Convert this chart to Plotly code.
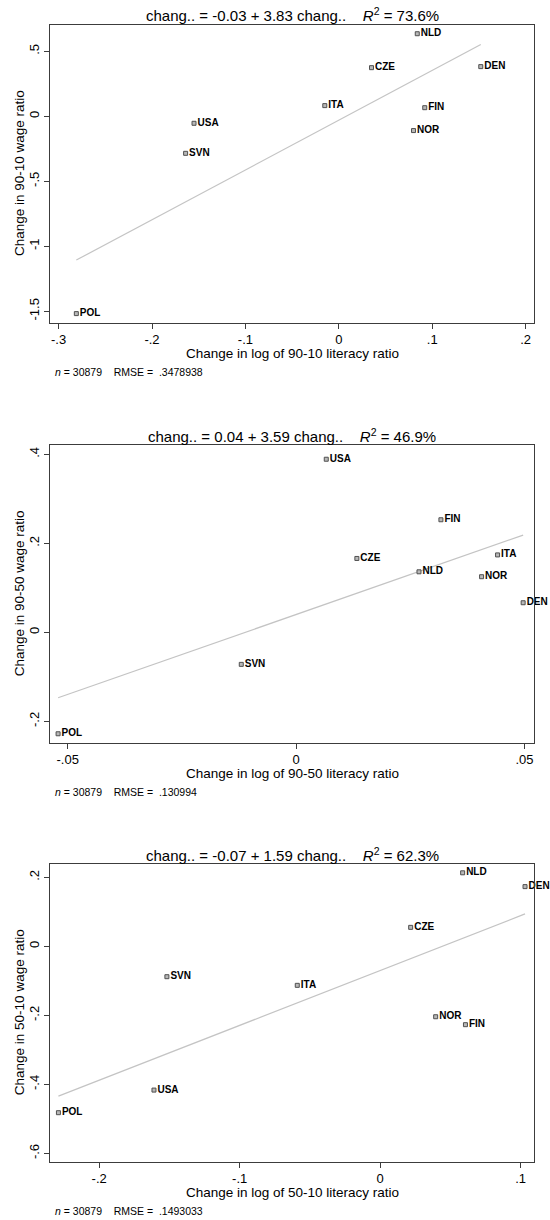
import plotly.graph_objects as go

# Country codes shown next to each point
countries_9010 = ["NLD", "CZE", "DEN", "ITA", "FIN", "USA", "NOR", "SVN", "POL"]
lit_9010 = [0.084, 0.035, 0.152, -0.015, 0.092, -0.155, 0.080, -0.164, -0.281]
wage_9010 = [0.635, 0.374, 0.382, 0.082, 0.066, -0.054, -0.110, -0.285, -1.518]

countries_9050 = ["USA", "FIN", "CZE", "ITA", "NLD", "NOR", "DEN", "SVN", "POL"]
lit_9050 = [0.0066, 0.0317, 0.0133, 0.0441, 0.0269, 0.0406, 0.0497, -0.0120, -0.0521]
wage_9050 = [0.389, 0.253, 0.166, 0.174, 0.136, 0.125, 0.0665, -0.072, -0.228]

countries_5010 = ["NLD", "DEN", "CZE", "SVN", "ITA", "NOR", "FIN", "USA", "POL"]
lit_5010 = [0.0587, 0.1031, 0.0217, -0.1518, -0.059, 0.0395, 0.0607, -0.161, -0.229]
wage_5010 = [0.213, 0.173, 0.055, -0.088, -0.113, -0.204, -0.227, -0.4165, -0.482]

# Fitted regression: intercept, slope, R-squared (%)
fits = [(-0.03, 3.83, 73.6), (0.04, 3.59, 46.9), (-0.07, 1.59, 62.3)]
rmse_text = [".3478938", ".130994", ".1493033"]
n_obs = 30879

x_titles = ["Change in log of 90-10 literacy ratio",
            "Change in log of 90-50 literacy ratio",
            "Change in log of 50-10 literacy ratio"]
y_titles = ["Change in 90-10 wage ratio",
            "Change in 90-50 wage ratio",
            "Change in 50-10 wage ratio"]

x_ticks = [[-0.3, -0.2, -0.1, 0, 0.1, 0.2], [-0.05, 0, 0.05], [-0.2, -0.1, 0, 0.1]]
x_ticktext = [["-.3", "-.2", "-.1", "0", ".1", ".2"], ["-.05", "0", ".05"], ["-.2", "-.1", "0", ".1"]]
y_ticks = [[-1.5, -1, -0.5, 0, 0.5], [-0.2, 0, 0.2, 0.4], [-0.6, -0.4, -0.2, 0, 0.2]]
y_ticktext = [["-1.5", "-1", "-.5", "0", ".5"], ["-.2", "0", ".2", ".4"], ["-.6", "-.4", "-.2", "0", ".2"]]

x_ranges = [[-0.3092, 0.2093], [-0.05387, 0.05214], [-0.235, 0.1097]]
y_ranges = [[-1.588, 0.706], [-0.2476, 0.421], [-0.624, 0.2394]]

W, H = 550, 1220
# Plot frames in pixels: (left, right, top, bottom)
frames = [(50, 534.3, 24.5, 322.7), (50, 534.3, 445, 742.5), (50, 534.3, 863.7, 1161.7)]

FONT = "Liberation Sans, Arial, Helvetica, sans-serif"
SP = "\u00a0"


def px_x(x):
    return x / W


def px_y(y):
    return 1 - y / H


datasets = [
    (countries_9010, lit_9010, wage_9010),
    (countries_9050, lit_9050, wage_9050),
    (countries_5010, lit_5010, wage_5010),
]

fig = go.Figure()
annotations = []
layout_axes = {}

for i, (names, xs, ys) in enumerate(datasets):
    k = "" if i == 0 else str(i + 1)
    xa, ya = "x" + k, "y" + k
    left, right, top, bottom = frames[i]
    intercept, slope, r2 = fits[i]

    # fitted line over the observed range of x
    x0, x1 = min(xs), max(xs)
    fig.add_trace(go.Scatter(
        x=[x0, x1], y=[intercept + slope * x0, intercept + slope * x1],
        mode="lines", line=dict(color="#c4c4c4", width=1.2),
        xaxis=xa, yaxis=ya, showlegend=False, hoverinfo="skip"))

    fig.add_trace(go.Scatter(
        x=xs, y=ys, text=names, mode="markers+text",
        textposition="middle right",
        textfont=dict(family=FONT, size=10, color="black", weight="bold"),
        marker=dict(symbol="square", size=4, color="#b8b8b8",
                    line=dict(color="#505050", width=1)),
        cliponaxis=False, xaxis=xa, yaxis=ya, showlegend=False))

    layout_axes["xaxis" + k] = dict(
        domain=[px_x(left), px_x(right)], range=x_ranges[i], anchor=ya,
        tickvals=x_ticks[i], ticktext=x_ticktext[i], ticks="outside", ticklen=5,
        tickcolor="#3c3c3c", showgrid=False, zeroline=False, showline=True,
        linecolor="#3c3c3c", linewidth=1, mirror=True,
        tickfont=dict(family=FONT, size=13, color="black"))
    layout_axes["yaxis" + k] = dict(
        domain=[px_y(bottom), px_y(top)], range=y_ranges[i], anchor=xa,
        tickvals=y_ticks[i], ticktext=y_ticktext[i], ticks="outside", ticklen=5,
        tickcolor="#3c3c3c", showgrid=False, zeroline=False, showline=True,
        linecolor="#3c3c3c", linewidth=1, mirror=True, tickangle=-90,
        tickfont=dict(family=FONT, size=13, color="black"))

    cx = (left + right) / 2
    cy = (top + bottom) / 2
    title = (f"chang.. = {intercept:.2f} + {slope:.2f} chang..{SP * 4}"
             f"<i>R</i><sup>2</sup> = {r2:.1f}%")
    annotations.append(dict(text=title, x=px_x(cx), y=px_y(top - 9.7), xref="paper", yref="paper",
                            xanchor="center", yanchor="middle", showarrow=False,
                            font=dict(family=FONT, size=15, color="black")))
    annotations.append(dict(text=x_titles[i], x=px_x(cx), y=px_y(bottom + 30.6), xref="paper",
                            yref="paper", xanchor="center", yanchor="middle", showarrow=False,
                            font=dict(family=FONT, size=13.5, color="black")))
    annotations.append(dict(text=y_titles[i], x=px_x(19.5), y=px_y(cy), xref="paper",
                            yref="paper", xanchor="center", yanchor="middle", showarrow=False,
                            textangle=-90, font=dict(family=FONT, size=13.5, color="black")))
    annotations.append(dict(text=f"<i>n</i> = {n_obs}{SP * 4}RMSE ={SP * 2}{rmse_text[i]}",
                            x=px_x(53), y=px_y(bottom + 49), xref="paper", yref="paper",
                            xanchor="left", yanchor="middle", showarrow=False,
                            font=dict(family=FONT, size=10.5, color="black")))

fig.update_layout(
    width=W, height=H, margin=dict(l=0, r=0, t=0, b=0),
    paper_bgcolor="white", plot_bgcolor="white",
    annotations=annotations, **layout_axes)

fig.write_html("out.html")
